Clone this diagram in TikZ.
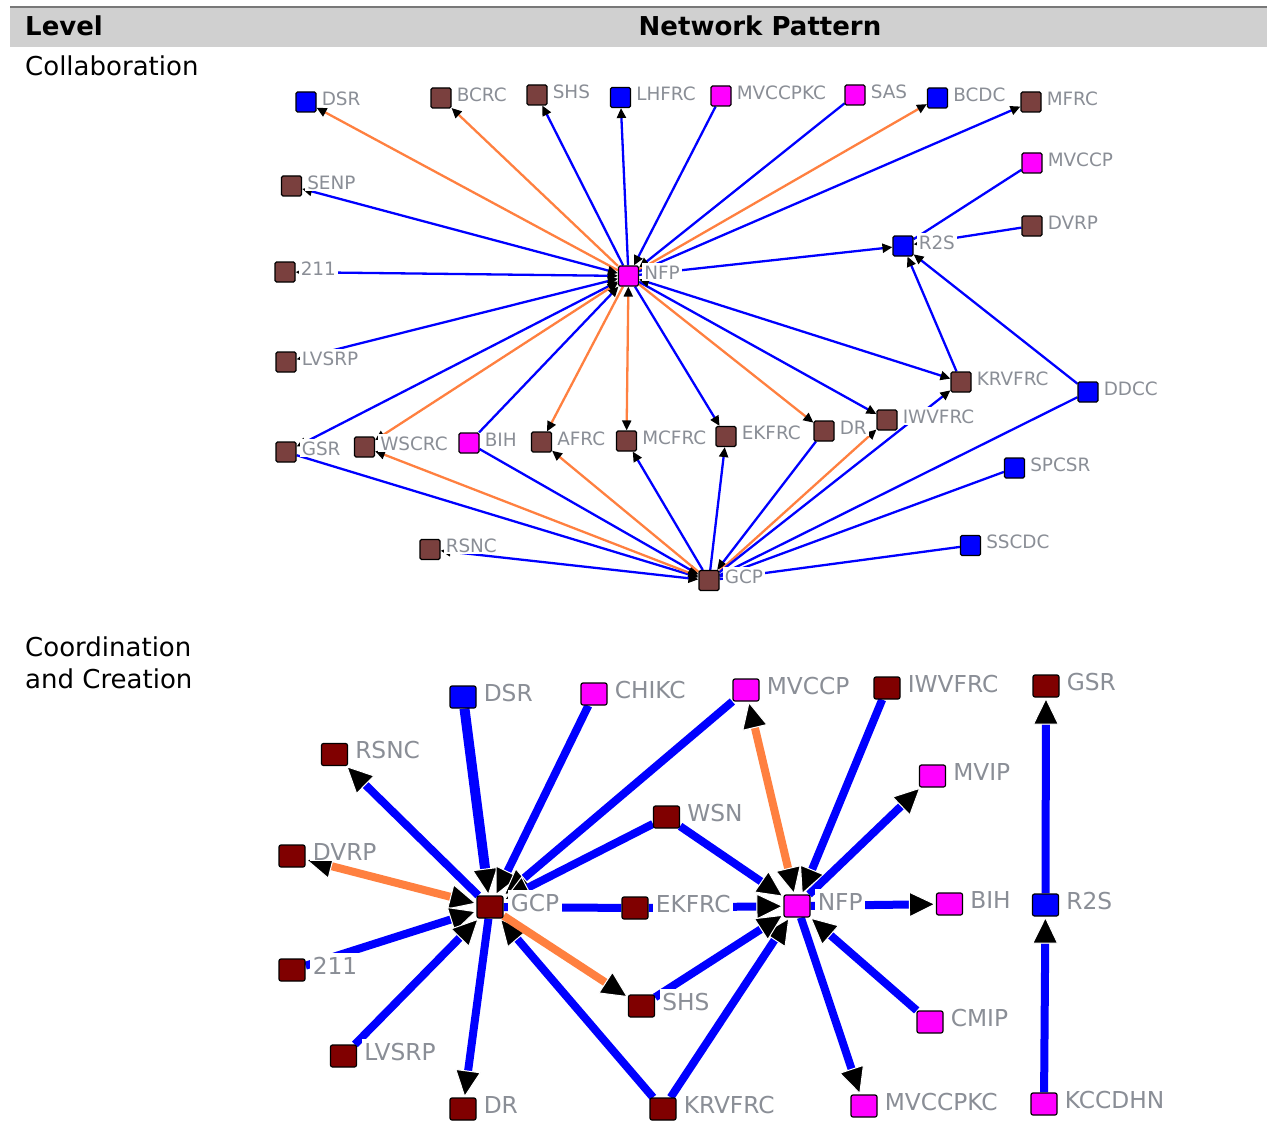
\documentclass[tikz,border=0pt]{standalone}
\usepackage{fontspec}
\setmainfont{DejaVu Sans}
\usetikzlibrary{arrows.meta}
\pgfdeclarelayer{edges}
\pgfsetlayers{edges,main}

\definecolor{headgray}{RGB}{208,208,208}
\definecolor{rulegray}{RGB}{120,120,120}
\definecolor{labgray}{RGB}{138,142,150}
\definecolor{nbrown}{RGB}{122,64,62}
\definecolor{ndred}{RGB}{128,0,0}
\definecolor{nmag}{RGB}{255,0,255}
\definecolor{nblue}{RGB}{0,0,255}
\definecolor{eblue}{RGB}{0,0,255}
\definecolor{eorange}{RGB}{255,128,64}

\tikzset{
  tsq/.style={draw=black, line width=1.1pt, rounded corners=1.5pt,
    minimum width=20pt, minimum height=20pt, inner sep=0pt},
  bsq/.style={draw=black, line width=1.2pt, rounded corners=2pt,
    minimum width=26pt, minimum height=22pt, inner sep=0pt},
  tlab/.style={anchor=west, fill=white, inner xsep=2pt, inner ysep=1.5pt,
    text height=15pt, text depth=0pt, text=labgray,
    font=\fontsize{18.4}{20}\selectfont},
  blab/.style={anchor=west, fill=white, inner xsep=2.5pt, inner ysep=1pt,
    text height=20pt, text depth=0pt, text=labgray,
    font=\fontsize{23.3}{25}\selectfont},
  coltext/.style={font=\fontsize{26}{32}\selectfont, inner sep=0pt},
  headtext/.style={font=\fontsize{26}{32}\selectfont\bfseries, inner sep=0pt},
  tline/.style={line width=2.3pt, draw=eblue},
  tlineo/.style={line width=2.3pt, draw=eorange},
  tarr/.style={-{Triangle[length=10pt,width=9pt,color=black]}},
  tarr2/.style={{Triangle[length=10pt,width=9pt,color=black]}-{Triangle[length=10pt,width=9pt,color=black]}},
  bline/.style={line width=8pt, draw=eblue},
  blineo/.style={line width=8pt, draw=eorange},
  barr/.style={-{Triangle[length=27pt,width=26pt,fill=black,color=white,line width=1pt]}},
  barr2/.style={{Triangle[length=27pt,width=26pt,fill=black,color=white,line width=1pt]}-{Triangle[length=27pt,width=26pt,fill=black,color=white,line width=1pt]}},
}

% square node with its label to the right
\newcommand{\tnd}[5]{%
  \node[tsq,fill=#4] (#1) at (#2,#3) {};
  \node[tlab] (#1-lab) at ([xshift=3pt,yshift=4.3pt]#1.east) {#5};}
\newcommand{\bnd}[5]{%
  \node[bsq,fill=#4] (#1) at (#2,#3) {};
  \node[blab] (#1-lab) at ([xshift=4.5pt,yshift=6pt]#1.east) {#5};}

\begin{document}
\begin{tikzpicture}[x=1pt,y=-1pt]
\useasboundingbox (0,0) rectangle (1267,1121);

% table header
\fill[headgray] (10,8) rectangle (1267,47);
\draw[rulegray, line width=1.5pt] (10,7) -- (1267,7);
\node[headtext, anchor=base west] (hlevel) at (25,36) {Level};
\node[headtext, anchor=base] (hpattern) at (760,36) {Network Pattern};
\node[coltext, anchor=base west] (lvcollab) at (25,76) {Collaboration};
\node[coltext, anchor=base west, align=left] (lvcoord) at (25,688) {Coordination\\and Creation};

% ---------- collaboration network ----------
\tnd{tDSR}{306}{102}{nblue}{DSR}
\tnd{tBCRC}{441}{98}{nbrown}{BCRC}
\tnd{tSHS}{537}{95}{nbrown}{SHS}
\tnd{tLHFRC}{620.5}{97.5}{nblue}{LHFRC}
\tnd{tMVCCPKC}{721}{96}{nmag}{MVCCPKC}
\tnd{tSAS}{855}{95}{nmag}{SAS}
\tnd{tBCDC}{937.5}{98}{nblue}{BCDC}
\tnd{tMFRC}{1031}{102}{nbrown}{MFRC}
\tnd{tMVCCP}{1032}{163}{nmag}{MVCCP}
\tnd{tDVRP}{1032}{226}{nbrown}{DVRP}
\tnd{tRtwoS}{903}{246}{nblue}{R2S}
\tnd{tSENP}{291.5}{186}{nbrown}{SENP}
\tnd{t211}{285}{272}{nbrown}{211}
\tnd{tNFP}{628.5}{276}{nmag}{NFP}
\tnd{tLVSRP}{286}{362}{nbrown}{LVSRP}
\tnd{tGSR}{286}{452}{nbrown}{GSR}
\tnd{tWSCRC}{364.5}{447}{nbrown}{WSCRC}
\tnd{tBIH}{469}{443}{nmag}{BIH}
\tnd{tAFRC}{541.5}{442}{nbrown}{AFRC}
\tnd{tMCFRC}{626.5}{441}{nbrown}{MCFRC}
\tnd{tEKFRC}{726}{436.5}{nbrown}{EKFRC}
\tnd{tDR}{824}{431}{nbrown}{DR}
\tnd{tIWVFRC}{887}{420}{nbrown}{IWVFRC}
\tnd{tKRVFRC}{961}{382}{nbrown}{KRVFRC}
\tnd{tDDCC}{1088}{392}{nblue}{DDCC}
\tnd{tSPCSR}{1014.5}{468}{nblue}{SPCSR}
\tnd{tSSCDC}{970.5}{545.5}{nblue}{SSCDC}
\tnd{tRSNC}{430}{549.5}{nbrown}{RSNC}
\tnd{tGCP}{709}{580.5}{nbrown}{GCP}

\begin{pgfonlayer}{edges}
\draw[tlineo,tarr] (tNFP) -- (tDSR);
\draw[tlineo,tarr] (tNFP) -- (tBCRC);
\draw[tline,tarr] (tNFP) -- (tSHS);
\draw[tline,tarr] (tNFP) -- (tLHFRC);
\draw[tline,tarr] (tMVCCPKC) -- (tNFP);
\draw[tline,tarr] (tSAS) -- (tNFP);
\draw[tlineo,tarr] (tNFP) -- (tBCDC);
\draw[tline,tarr] (tNFP) -- (tMFRC);
\draw[tline,tarr] (tNFP) -- (tRtwoS);
\draw[tline,tarr2] (tNFP) -- (tSENP);
\draw[tline,tarr2] (tNFP) -- (t211);
\draw[tline,tarr2] (tNFP) -- (tLVSRP);
\draw[tline,tarr2] (tNFP) -- (tGSR);
\draw[tlineo,tarr2] (tNFP) -- (tWSCRC);
\draw[tline,tarr] (tBIH) -- (tNFP);
\draw[tlineo,tarr] (tNFP) -- (tAFRC);
\draw[tlineo,tarr2] (tNFP) -- (tMCFRC);
\draw[tline,tarr] (tNFP) -- (tEKFRC);
\draw[tlineo,tarr] (tNFP) -- (tDR);
\draw[tline,tarr] (tNFP) -- (tIWVFRC);
\draw[tline,tarr2] (tNFP) -- (tKRVFRC);
\draw[tline] (tRtwoS) -- (tMVCCP);
\draw[tline,tarr] (tDVRP) -- (tRtwoS);
\draw[tline,tarr] (tKRVFRC) -- (tRtwoS);
\draw[tline,tarr] (tDDCC) -- (tRtwoS);
\draw[tline,tarr] (tGSR) -- (tGCP);
\draw[tlineo,tarr2] (tGCP) -- (tWSCRC);
\draw[tline,tarr] (tBIH) -- (tGCP);
\draw[tlineo,tarr] (tGCP) -- (tAFRC);
\draw[tline,tarr] (tGCP) -- (tMCFRC);
\draw[tline,tarr] (tGCP) -- (tEKFRC);
\draw[tline,tarr] (tDR) -- (tGCP);
\draw[tlineo,tarr] (tGCP) -- (tIWVFRC);
\draw[tline,tarr] (tGCP) -- (tKRVFRC);
\draw[tline] (tGCP) -- (tDDCC);
\draw[tline] (tGCP) -- (tSPCSR);
\draw[tline] (tGCP) -- (tSSCDC);
\draw[tline,tarr2] (tRSNC) -- (tGCP);
\end{pgfonlayer}

% ---------- coordination and creation network ----------
\bnd{bDSR}{463}{697}{nblue}{DSR}
\bnd{bCHIKC}{594}{694}{nmag}{CHIKC}
\bnd{bMVCCP}{746}{690}{nmag}{MVCCP}
\bnd{bIWVFRC}{887}{688}{ndred}{IWVFRC}
\bnd{bGSR}{1046}{686}{ndred}{GSR}
\bnd{bRSNC}{334.5}{754.5}{ndred}{RSNC}
\bnd{bMVIP}{932.5}{776}{nmag}{MVIP}
\bnd{bWSN}{666.5}{817}{ndred}{WSN}
\bnd{bDVRP}{292}{856}{ndred}{DVRP}
\bnd{bGCP}{490}{907}{ndred}{GCP}
\bnd{bEKFRC}{635}{908}{ndred}{EKFRC}
\bnd{bNFP}{797}{906}{nmag}{NFP}
\bnd{bBIH}{949.5}{904}{nmag}{BIH}
\bnd{bRtwoS}{1045.5}{905}{nblue}{R2S}
\bnd{b211}{292}{970}{ndred}{211}
\bnd{bSHS}{641.5}{1006}{ndred}{SHS}
\bnd{bCMIP}{930}{1022}{nmag}{CMIP}
\bnd{bLVSRP}{343.5}{1056}{ndred}{LVSRP}
\bnd{bDR}{463}{1109}{ndred}{DR}
\bnd{bKRVFRC}{663}{1109}{ndred}{KRVFRC}
\bnd{bMVCCPKC}{864}{1106}{nmag}{MVCCPKC}
\bnd{bKCCDHN}{1044}{1104}{nmag}{KCCDHN}

\begin{pgfonlayer}{edges}
\draw[bline,line width=10pt,barr] (bDSR) -- (bGCP);
\draw[bline,barr] (bCHIKC) -- (bGCP);
\draw[bline,barr] (bMVCCP) -- (bGCP);
\draw[bline,barr] (bWSN) -- (bGCP);
\draw[bline,barr] (bGCP) -- (bRSNC);
\draw[blineo,barr2] (bGCP) -- (bDVRP);
\draw[bline,barr] (b211) -- (bGCP);
\draw[bline,barr] (bLVSRP) -- (bGCP);
\draw[bline,barr] (bGCP) -- (bDR);
\draw[bline,barr] (bKRVFRC) -- (bGCP);
\draw[blineo,barr] (bGCP) -- (bSHS);
\draw[bline] (bGCP) -- (bEKFRC);
\draw[bline,barr] (bEKFRC) -- (bNFP);
\draw[bline,barr] (bWSN) -- (bNFP);
\draw[blineo,barr2] (bNFP) -- (bMVCCP);
\draw[bline,barr] (bIWVFRC) -- (bNFP);
\draw[bline,barr] (bNFP) -- (bMVIP);
\draw[bline,barr] (bNFP) -- (bBIH);
\draw[bline,barr] (bCMIP) -- (bNFP);
\draw[bline,barr] (bNFP) -- (bMVCCPKC);
\draw[bline,barr] (bKRVFRC) -- (bNFP);
\draw[bline,barr] (bSHS) -- (bNFP);
\draw[bline,barr] (bRtwoS) -- (bGSR);
\draw[bline,barr] (bKCCDHN) -- (bRtwoS);
\end{pgfonlayer}
\end{tikzpicture}
\end{document}
